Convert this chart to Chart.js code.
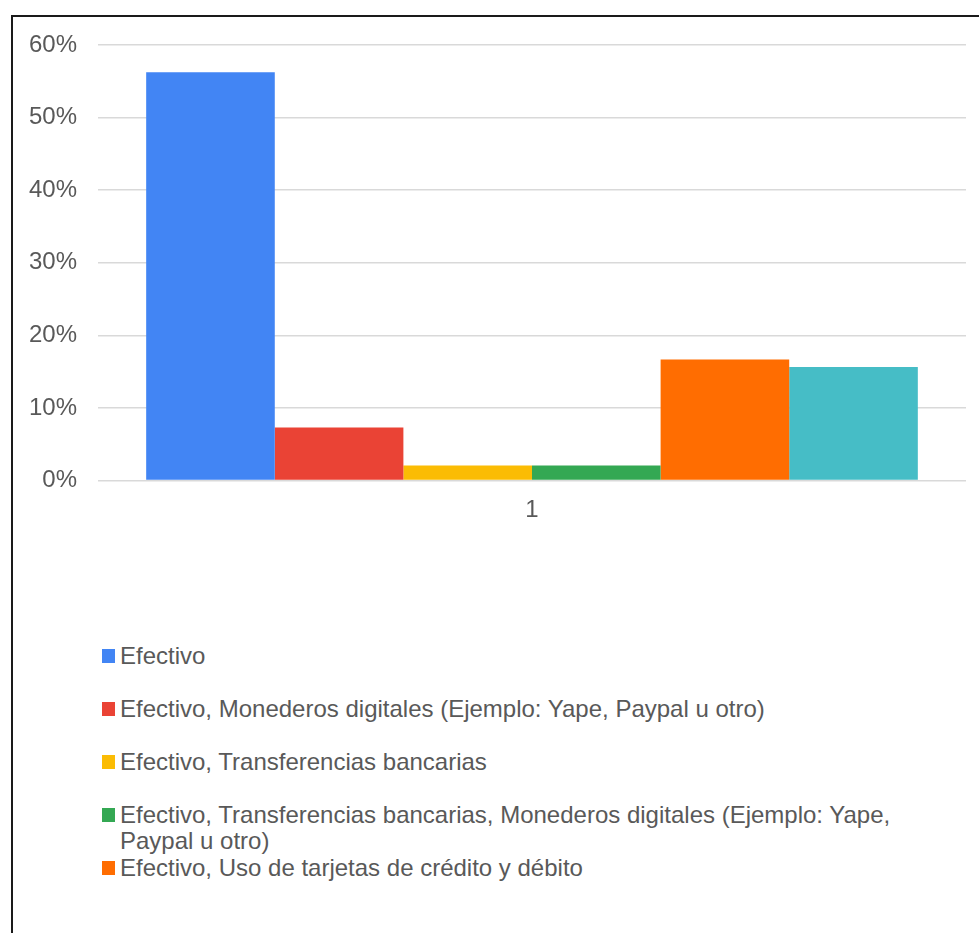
<!DOCTYPE html>
<html lang="es">
<head>
<meta charset="utf-8">
<title>Medios de pago</title>
<script src="https://cdn.jsdelivr.net/npm/chart.js@4.4.1/dist/chart.umd.min.js"></script>
<style>
  html, body { margin: 0; padding: 0; background: #fff; overflow: hidden; }
  body { width: 979px; height: 933px; position: relative; font-family: Arial, "Liberation Sans", sans-serif; }
  #marco { position: absolute; left: 11px; top: 15px; width: 1000px; height: 1000px; border: 2px solid #1a1a1a; }
  #grafico { position: absolute; left: 0; top: 0; width: 979px; height: 540px; }
  #leyenda { position: absolute; left: 102px; top: 643px; width: 820px; height: 268px; overflow: hidden; margin: 0; padding: 0; list-style: none; }
  #leyenda li { position: relative; height: 53px; padding-left: 18px; color: #595959; font-size: 24px; line-height: 26px; box-sizing: border-box; }
  #leyenda li span { position: absolute; left: 0; top: 6px; width: 13px; height: 14px; }
</style>
</head>
<body>
<div id="marco"></div>
<div id="grafico"><canvas id="barras"></canvas></div>
<ul id="leyenda"></ul>
<script>
// Porcentaje de respuestas por medio de pago
const categorias = ["1"];
const medios = [
  "Efectivo",
  "Efectivo, Monederos digitales (Ejemplo: Yape, Paypal u otro)",
  "Efectivo, Transferencias bancarias",
  "Efectivo, Transferencias bancarias, Monederos digitales (Ejemplo: Yape, Paypal u otro)",
  "Efectivo, Uso de tarjetas de crédito y débito",
  "Efectivo, Uso de tarjetas de crédito y débito, Monederos digitales"
];
const porcentajes = [56.25, 7.29, 2.08, 2.08, 16.67, 15.63];
const colores = ["#4285f4", "#ea4335", "#fbbc04", "#34a853", "#ff6d01", "#46bdc6"];
const marcasY = [0, 10, 20, 30, 40, 50, 60];

const datasets = medios.map((m, i) => ({
  label: m,
  data: [porcentajes[i]],
  backgroundColor: colores[i],
  borderWidth: 0,
  barPercentage: 1,
  categoryPercentage: 0.889
}));

const fuente = { family: "Arial, 'Liberation Sans', sans-serif", size: 24 };

new Chart(document.getElementById("barras"), {
  type: "bar",
  data: { labels: categorias, datasets: datasets },
  options: {
    responsive: true,
    maintainAspectRatio: false,
    animation: false,
    layout: { padding: { top: 45, right: 13, bottom: 0, left: 0 } },
    plugins: { legend: { display: false }, tooltip: { enabled: false } },
    scales: {
      x: {
        grid: { display: false, drawTicks: false },
        border: { display: false },
        ticks: { color: "#595959", font: fuente, padding: 15 },
        afterFit: (eje) => { eje.height = 59.5; }
      },
      y: {
        min: 0,
        max: 60,
        afterBuildTicks: (eje) => { eje.ticks = marcasY.map(v => ({ value: v })); },
        grid: { color: "#d9d9d9", lineWidth: 1.5, drawTicks: false },
        border: { display: false },
        ticks: { color: "#595959", font: fuente, padding: 21, callback: (v) => v + "%" },
        afterFit: (eje) => { eje.width = 98; }
      }
    }
  }
});

// leyenda en lista, con hueco fijo por entrada
const leyenda = document.getElementById("leyenda");
medios.forEach((m, i) => {
  const li = document.createElement("li");
  const cuadro = document.createElement("span");
  cuadro.style.background = colores[i];
  li.appendChild(cuadro);
  li.appendChild(document.createTextNode(m));
  leyenda.appendChild(li);
});
</script>
</body>
</html>
